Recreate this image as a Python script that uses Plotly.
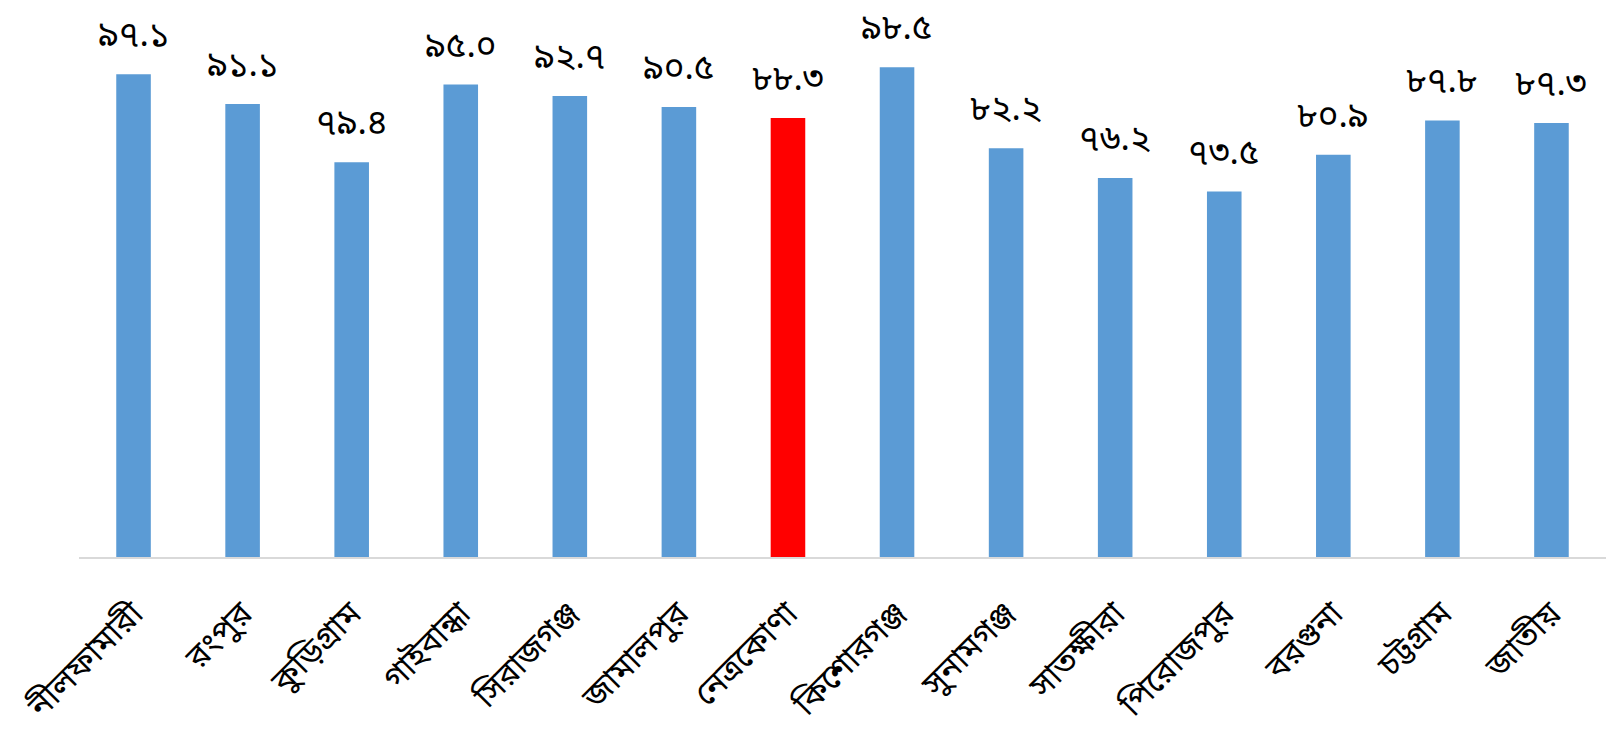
import plotly.graph_objects as go

categories = ["নীলফামারী", "রংপুর", "কুড়িগ্রাম", "গাইবান্ধা", "সিরাজগঞ্জ", "জামালপুর",
              "নেত্রকোণা", "কিশোরগঞ্জ", "সুনামগঞ্জ", "সাতক্ষীরা", "পিরোজপুর", "বরগুনা",
              "চট্টগ্রাম", "জাতীয়"]
values = [97.1, 91.1, 79.4, 95.0, 92.7, 90.5, 88.3, 98.5, 82.2, 76.2, 73.5, 80.9, 87.8, 87.3]
value_labels = ["৯৭.১", "৯১.১", "৭৯.৪", "৯৫.০", "৯২.৭", "৯০.৫", "৮৮.৩", "৯৮.৫", "৮২.২",
                "৭৬.২", "৭৩.৫", "৮০.৯", "৮৭.৮", "৮৭.৩"]
highlight = "নেত্রকোণা"

colors = ["#ff0000" if c == highlight else "#5b9bd5" for c in categories]

FONT = "Noto Sans Bengali, Noto Serif Bengali, Lohit Bengali, Vrinda, FreeSans, sans-serif"

fig = go.Figure(go.Bar(
    x=categories, y=values, marker_color=colors, marker_line_width=0,
))

for c, v, t in zip(categories, values, value_labels):
    fig.add_annotation(x=c, y=v, text=t, showarrow=False, yanchor="bottom",
                       yshift=12, font=dict(size=35, color="black", family=FONT))

fig.update_layout(
    width=1606, height=731,
    margin=dict(l=79, r=0, t=10, b=174, autoexpand=False),
    plot_bgcolor="white", paper_bgcolor="white",
    bargap=0.683, showlegend=False,
    font=dict(family=FONT, color="black"),
)
fig.update_xaxes(
    showline=True, linecolor="#d9d9d9", linewidth=2, tickangle=-45,
    tickfont=dict(size=33, color="black", family=FONT), showgrid=False,
    ticks="outside", ticklen=22, tickcolor="rgba(0,0,0,0)", automargin=False,
)
fig.update_yaxes(range=[0, 110], visible=False, showgrid=False)

fig.write_html("out.html")
